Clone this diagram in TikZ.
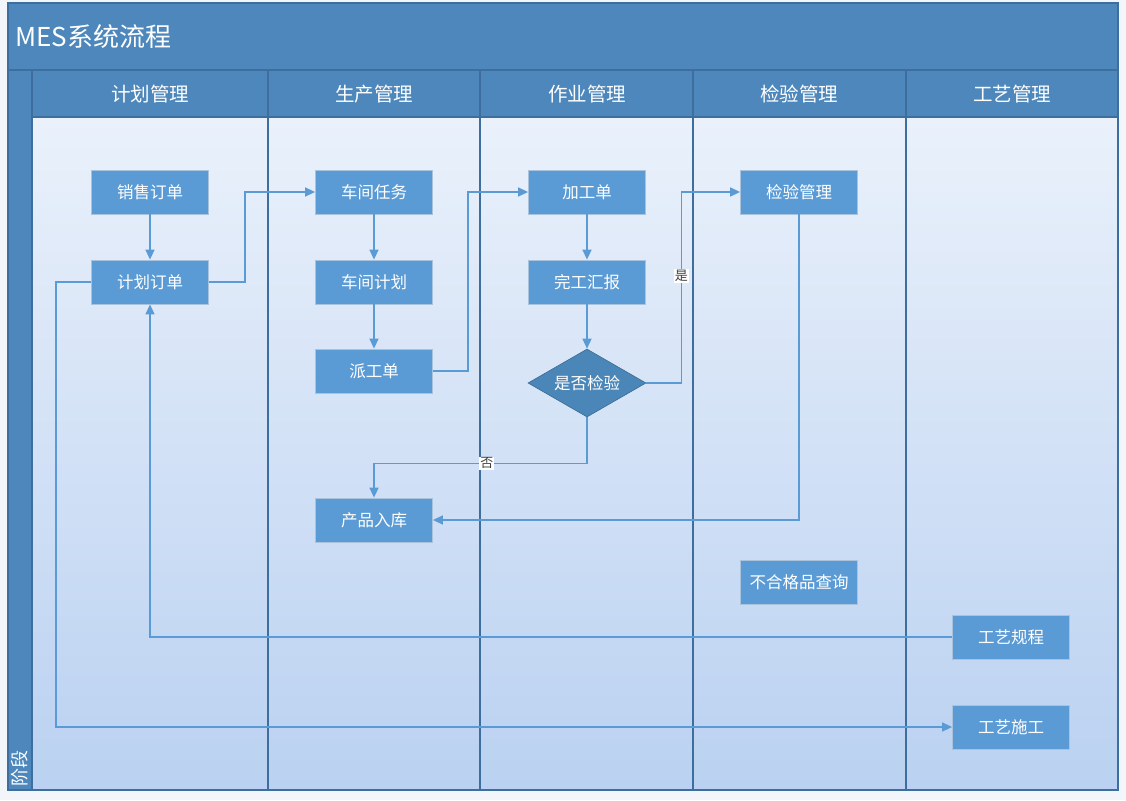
\documentclass[tikz,border=0pt]{standalone}
\usepackage{fontspec}
\setmainfont{Noto Sans CJK SC}
\usetikzlibrary{shapes.geometric,arrows.meta}
\definecolor{band}{HTML}{4D87BB}
\definecolor{laneline}{HTML}{3E6E9E}
\definecolor{boxfill}{HTML}{5B9BD5}
\definecolor{boxedge}{HTML}{A9C3DD}
\definecolor{decfill}{HTML}{4A86B8}
\definecolor{conncol}{HTML}{5B9BD5}
\definecolor{bgtop}{HTML}{EAF1FB}
\definecolor{bgbot}{HTML}{BAD1F1}
\definecolor{outside}{HTML}{F2F5FA}
\tikzset{
  stepbox/.style={rectangle, fill=boxfill, draw=boxedge, line width=0.8pt,
    minimum width=117pt, minimum height=44pt, inner sep=0pt,
    text=white, font=\fontsize{16.5pt}{19pt}\selectfont},
  decbox/.style={diamond, fill=decfill, draw=decfill!80!black, line width=0.6pt,
    minimum width=118pt, minimum height=68pt, aspect=1.7, inner sep=0pt,
    text=white, font=\fontsize{16.5pt}{19pt}\selectfont},
  conn/.style={draw=conncol, line width=1.5pt,
    -{Triangle[length=10pt,width=9pt]}},
  lbl/.style={fill=white, inner sep=1pt, text=black!75,
    font=\fontsize{13pt}{15pt}\selectfont},
  hdr/.style={text=white, font=\fontsize{19.5pt}{22pt}\selectfont},
  lane/.style={draw=laneline, line width=1.5pt}
}
\begin{document}
\begin{tikzpicture}[x=1pt,y=-1pt]
\useasboundingbox (0,0) rectangle (1126,800);
\fill[outside] (0,0) rectangle (1126,800);
% lane body shading
\shade[top color=bgtop, bottom color=bgbot] (32,117) rectangle (1118,790);
% title band
\fill[band] (8,3) rectangle (1118,70);
\node[anchor=west, text=white, font=\fontsize{26pt}{30pt}\selectfont] (title) at (12,37) {MES系统流程};
% header row and side band
\fill[band] (32,70) rectangle (1118,117);
\fill[band] (8,70) rectangle (32,790);
\node[rotate=90, anchor=west, text=white, font=\fontsize{18pt}{20pt}\selectfont] (phase) at (20,790) {阶段};
% lane lines
\draw[lane] (8,70) -- (1118,70);
\draw[lane] (32,117) -- (1118,117);
\draw[lane] (32,70) -- (32,790);
\foreach \x in {268,480,693,906} \draw[lane] (\x,70) -- (\x,790);
\draw[lane] (8,3) rectangle (1118,790);
% headers
\node[hdr] (h1) at (150,94) {计划管理};
\node[hdr] (h2) at (374,94) {生产管理};
\node[hdr] (h3) at (587,94) {作业管理};
\node[hdr] (h4) at (799,94) {检验管理};
\node[hdr] (h5) at (1012,94) {工艺管理};
% nodes
\node[stepbox] (sale) at (150,192) {销售订单};
\node[stepbox] (plan) at (150,282) {计划订单};
\node[stepbox] (task) at (374,192) {车间任务};
\node[stepbox] (wplan) at (374,282) {车间计划};
\node[stepbox] (disp) at (374,371) {派工单};
\node[stepbox] (work) at (587,192) {加工单};
\node[stepbox] (done) at (587,282) {完工汇报};
\node[decbox] (check) at (587,383) {是否检验};
\node[stepbox] (insp) at (799,192) {检验管理};
\node[stepbox] (store) at (374,520) {产品入库};
\node[stepbox] (ng) at (799,582) {不合格品查询};
\node[stepbox] (rule) at (1011,637) {工艺规程};
\node[stepbox] (craft) at (1011,727) {工艺施工};
% connectors
\draw[conn] (sale) -- (plan);
\draw[conn] (plan.east) -- ++(36,0) |- (task.west);
\draw[conn] (task) -- (wplan);
\draw[conn] (wplan) -- (disp);
\draw[conn] (disp.east) -- ++(35,0) |- (work.west);
\draw[conn] (work) -- (done);
\draw[conn] (done) -- (check);
\draw[conn] (check.east) -- ++(35,0) coordinate (c1) -- node[lbl, pos=0.56] {是} (c1 |- insp.west) -- (insp.west);
\draw[conn] (check.south) -- ++(0,46) -| node[lbl, pos=0.235] {否} (store.north);
\draw[conn] (insp.south) |- (store.east);
\draw[conn] (rule.west) -| (plan.south);
\draw[conn] (plan.west) -- ++(-35,0) |- (craft.west);
\end{tikzpicture}
\end{document}
